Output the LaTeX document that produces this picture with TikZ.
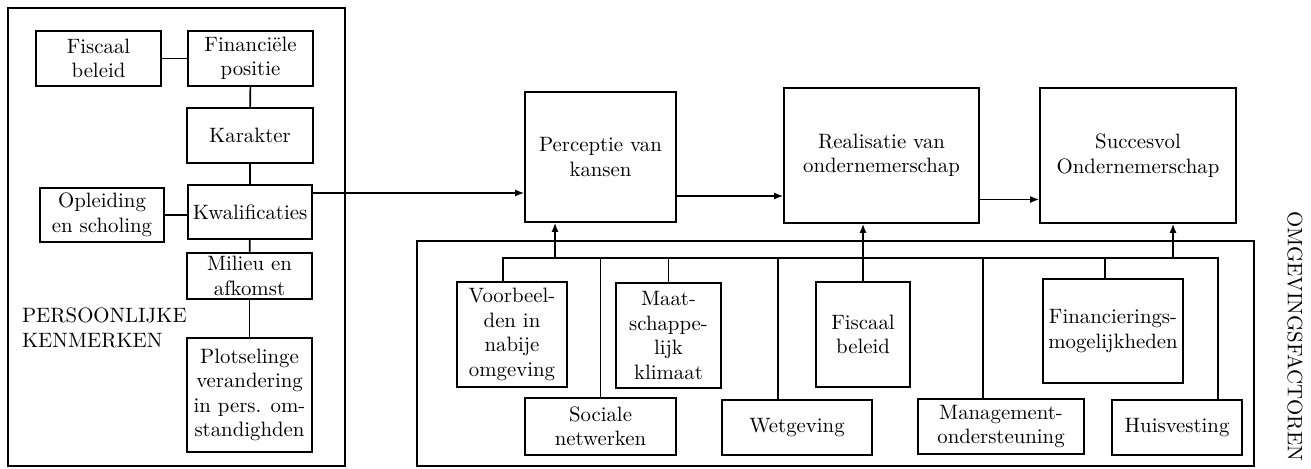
\documentclass[tikz,border=0pt]{standalone}
\usepackage{tikz}
\usetikzlibrary{positioning,calc,arrows.meta}

\tikzset{
    blok/.style={draw, line width=0.8pt, align=center, inner sep=1pt},
    sz/.style 2 args={minimum width=#1*0.5pt, minimum height=#2*0.5pt},
    lijn/.style={line width=0.8pt},
    pijl/.style={line width=0.8pt, -{Latex[length=4.5pt,width=3.5pt]}}
}

\begin{document}
\begin{tikzpicture}[x=0.5pt,y=-0.5pt,font=\fontsize{10.4}{12.2}\selectfont]
            \useasboundingbox (0,0) rectangle (1311,469);

            % Persoonlijke kenmerken
            \draw[lijn] (8,8) rectangle (345,466);
            \node[blok, sz={125}{55}] (fisc1) at (98.5,58.5) {Fiscaal\\beleid};
            \node[blok, sz={125}{55}] (finpos) at (250.5,58.5) {Financi\"ele\\positie};
            \node[blok, sz={126}{55}] (karakter) at (250,135.5) {Karakter};
            \node[blok, sz={124}{54}] (kwal) at (250,212) {Kwalificaties};
            \node[blok, sz={124}{54}] (opleid) at (102,215) {Opleiding\\en scholing};
            \node[blok, sz={125}{46}] (milieu) at (249.5,276) {Milieu en\\afkomst};
            \node[blok, sz={125}{114}] (plots) at (249.5,395) {Plotselinge\\verandering\\in pers. om-\\standighden};
            \node[anchor=west, align=left, font=\fontsize{10.4}{12.5}\selectfont] (pers) at (15,328) {PERSOONLIJKE\\KENMERKEN};

            \draw[lijn] (fisc1) -- (finpos);
            \draw[lijn] (finpos) -- (karakter);
            \draw[lijn] (karakter) -- (kwal);
            \draw[lijn] (opleid.east) -- (opleid.east -| kwal.west);
            \draw[lijn] (kwal) -- (milieu);
            \draw[lijn] (milieu) -- (plots);

            % Hoofdlijn
            \node[blok, sz={151}{130}] (perc) at (600.5,157) {Perceptie van\\kansen};
            \node[blok, sz={195}{135}] (real) at (881.5,155.5) {Realisatie van\\ondernemerschap};
            \node[blok, sz={196}{135}] (succ) at (1138,155.5) {Succesvol\\Ondernemerschap};

            \coordinate (k1) at ([yshift=9.5pt]kwal.east);
            \draw[pijl] (k1) -- (k1 -| perc.west);
            \coordinate (p1) at ([yshift=-19.5pt]perc.east);
            \draw[pijl] (p1) -- (p1 -| real.west);
            \coordinate (r1) at ([yshift=-22pt]real.east);
            \draw[pijl] (r1) -- (r1 -| succ.west);

            % Omgevingsfactoren
            \draw[lijn] (417,241) rectangle (1254,466);
            \node[rotate=-90] (omg) at (1295,336) {OMGEVINGSFACTOREN};

            \node[blok, sz={110}{105}] (voorb) at (512,334.5) {Voorbeel-\\den in\\nabije\\omgeving};
            \node[blok, sz={105}{105}] (maat) at (668.5,335.5) {Maat-\\schappe-\\lijk\\klimaat};
            \node[blok, sz={151}{57}] (soc) at (600.5,426.5) {Sociale\\netwerken};
            \node[blok, sz={150}{55}] (wet) at (797,427.5) {Wetgeving};
            \node[blok, sz={94}{105}] (fisc2) at (863,334.5) {Fiscaal\\beleid};
            \node[blok, sz={166}{55}] (mgmt) at (1001,426.5) {Management-\\ondersteuning};
            \node[blok, sz={140}{104}] (finmog) at (1113,331) {Financierings-\\mogelijkheden};
            \node[blok, sz={130}{55}] (huis) at (1177,427.5) {Huisvesting};

            % Verzamellijn
            \coordinate (busL) at (503,258);
            \coordinate (busR) at (1218,258);
            \draw[lijn] (busL |- voorb.north) -- (busL) -- (busR) -- (busR |- huis.north);
            \foreach \n/\d in {soc/0, maat/0, wet/-19, mgmt/-18, finmog/-8} {
                \draw[lijn] ($(\n.north)+(\d,0)$) -- ($(\n.north |- busL)+(\d,0)$);
            }

            \coordinate (bp) at (555,258);
            \draw[pijl] (bp) -- (bp |- perc.south);
            \draw[pijl] (fisc2.north) -- (fisc2.north |- real.south);
            \coordinate (bs) at (1173,258);
            \draw[pijl] (bs) -- (bs |- succ.south);
        \end{tikzpicture}
\end{document}
